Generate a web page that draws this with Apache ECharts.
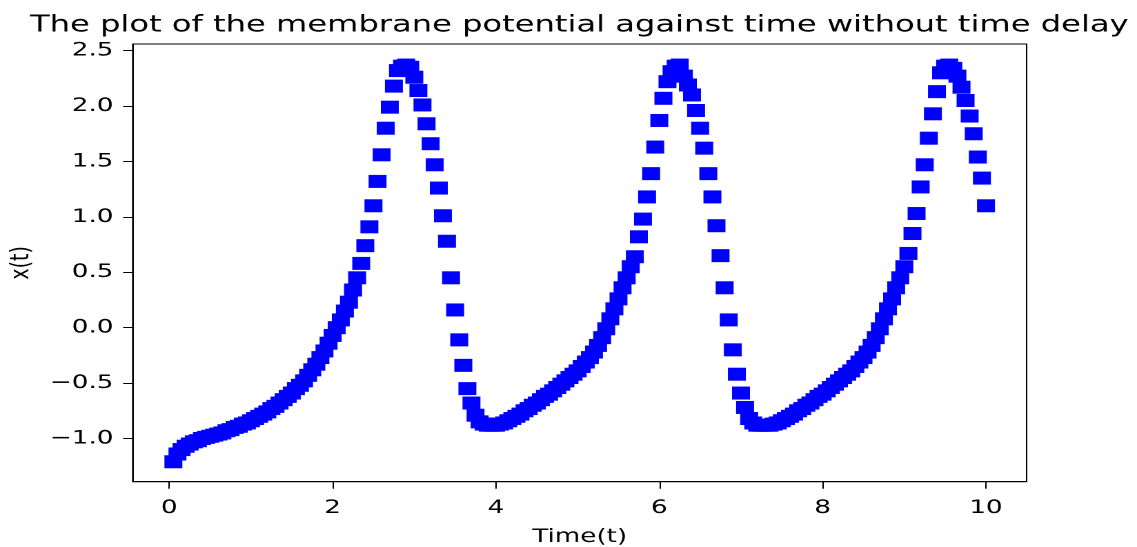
<!DOCTYPE html>
<html>
<head>
<meta charset="utf-8">
<script src="https://cdn.jsdelivr.net/npm/echarts@6/dist/echarts.min.js"></script>
<style>
html,body{margin:0;padding:0;background:#fff;overflow:hidden;width:1137px;height:547px}
#wrap{width:1137px;height:547px;overflow:hidden;position:relative}
#chart{width:824px;height:547px;transform:scaleX(1.37985);transform-origin:0 0}
</style>
</head>
<body>
<div id="wrap"><div id="chart"></div></div>
<script>
// Time samples (t)
const time = [
  0.05,0.10,0.15,0.20,0.25,0.30,0.35,0.40,0.45,0.50,
  0.55,0.60,0.65,0.70,0.75,0.80,0.85,0.90,0.95,1.00,
  1.05,1.10,1.15,1.20,1.25,1.30,1.35,1.40,1.45,1.50,
  1.55,1.60,1.65,1.70,1.75,1.80,1.85,1.90,1.95,2.00,
  2.05,2.10,2.15,2.20,2.25,2.30,2.35,2.40,2.45,2.50,
  2.55,2.60,2.65,2.70,2.75,2.80,2.85,2.90,2.95,3.00,
  3.05,3.10,3.15,3.20,3.25,3.30,3.35,3.40,3.45,3.50,
  3.55,3.60,3.65,3.70,3.75,3.80,3.85,3.90,3.95,4.00,
  4.05,4.10,4.15,4.20,4.25,4.30,4.35,4.40,4.45,4.50,
  4.55,4.60,4.65,4.70,4.75,4.80,4.85,4.90,4.95,5.00,
  5.05,5.10,5.15,5.20,5.25,5.30,5.35,5.40,5.45,5.50,
  5.55,5.60,5.65,5.70,5.75,5.80,5.85,5.90,5.95,6.00,
  6.05,6.10,6.15,6.20,6.25,6.30,6.35,6.40,6.45,6.50,
  6.55,6.60,6.65,6.70,6.75,6.80,6.85,6.90,6.95,7.00,
  7.05,7.10,7.15,7.20,7.25,7.30,7.35,7.40,7.45,7.50,
  7.55,7.60,7.65,7.70,7.75,7.80,7.85,7.90,7.95,8.00,
  8.05,8.10,8.15,8.20,8.25,8.30,8.35,8.40,8.45,8.50,
  8.55,8.60,8.65,8.70,8.75,8.80,8.85,8.90,8.95,9.00,
  9.05,9.10,9.15,9.20,9.25,9.30,9.35,9.40,9.45,9.50,
  9.55,9.60,9.65,9.70,9.75,9.80,9.85,9.90,9.95,10.00
];

// Membrane potential x(t)
const potential = [
  -1.21,-1.14,-1.10,-1.07,-1.05,-1.03,-1.02,-1.00,-0.99,-0.98,
  -0.97,-0.96,-0.95,-0.93,-0.92,-0.90,-0.89,-0.87,-0.86,-0.84,
  -0.82,-0.80,-0.78,-0.76,-0.73,-0.71,-0.68,-0.65,-0.62,-0.59,
  -0.55,-0.52,-0.48,-0.43,-0.38,-0.33,-0.27,-0.21,-0.14,-0.07,
   0.00, 0.07, 0.15, 0.23, 0.34, 0.45, 0.58, 0.74, 0.91, 1.10,
   1.32, 1.56, 1.80, 1.99, 2.18, 2.32, 2.36, 2.37, 2.35, 2.26,
   2.14, 2.01, 1.84, 1.66, 1.47, 1.26, 1.01, 0.78, 0.45, 0.16,
  -0.11,-0.34,-0.55,-0.68,-0.79,-0.85,-0.87,-0.88,-0.88,-0.88,
  -0.87,-0.86,-0.84,-0.82,-0.80,-0.78,-0.75,-0.73,-0.70,-0.68,
  -0.65,-0.62,-0.60,-0.57,-0.54,-0.51,-0.48,-0.45,-0.42,-0.39,
  -0.35,-0.31,-0.27,-0.22,-0.16,-0.09,-0.01, 0.08, 0.17, 0.26,
   0.36, 0.45, 0.55, 0.64, 0.82, 0.98, 1.18, 1.39, 1.63, 1.87,
   2.07, 2.22, 2.31, 2.36, 2.37, 2.27, 2.19, 2.10, 1.96, 1.80,
   1.62, 1.39, 1.18, 0.92, 0.65, 0.36, 0.07,-0.20,-0.42,-0.59,
  -0.72,-0.82,-0.86,-0.88,-0.88,-0.88,-0.88,-0.87,-0.86,-0.84,
  -0.82,-0.80,-0.78,-0.75,-0.73,-0.70,-0.68,-0.65,-0.62,-0.60,
  -0.57,-0.54,-0.51,-0.48,-0.45,-0.42,-0.39,-0.35,-0.31,-0.27,
  -0.22,-0.16,-0.09,-0.01, 0.08, 0.17, 0.26, 0.36, 0.45, 0.55,
   0.67, 0.85, 1.03, 1.27, 1.47, 1.71, 1.93, 2.13, 2.30, 2.36,
   2.37, 2.34, 2.27, 2.17, 2.05, 1.91, 1.75, 1.54, 1.35, 1.10
];

const xTickValues = [0, 2, 4, 6, 8, 10];
const xTickLabels = ['0', '2', '4', '6', '8', '10'];
const yTickValues = [-1.0, -0.5, 0.0, 0.5, 1.0, 1.5, 2.0, 2.5];
const yTickLabels = ['\u22121.0', '\u22120.5', '0.0', '0.5', '1.0', '1.5', '2.0', '2.5'];

const titleText = 'The plot of the membrane potential against time without time delay';
const xName = 'Time(t)';
const yName = 'x(t)';

function lookup(values, labels) {
  return function (v) {
    const i = values.findIndex(function (t) { return Math.abs(t - v) < 1e-9; });
    return i >= 0 ? labels[i] : '';
  };
}

const points = time.map(function (t, i) { return [t, potential[i]]; });

const FONT = 'DejaVu Sans';
const chart = echarts.init(document.getElementById('chart'), null, { renderer: 'canvas', devicePixelRatio: 2 });
chart.setOption({
  animation: false,
  backgroundColor: '#ffffff',
  title: {
    text: titleText,
    left: 419.8,
    top: 14,
    padding: 0,
    textAlign: 'center',
    textStyle: { fontFamily: FONT, fontSize: 23.3, fontWeight: 'normal', color: '#000' }
  },
  grid: {
    left: 96.2, top: 44, width: 647.8, height: 437.7,
    show: true, borderColor: '#000', borderWidth: 1, backgroundColor: 'transparent',
    outerBoundsMode: 'none', containLabel: false
  },
  xAxis: {
    type: 'value',
    min: -0.4475, max: 10.4975,
    name: xName, nameLocation: 'middle', nameGap: 46,
    nameTextStyle: { fontFamily: FONT, fontSize: 19, color: '#000' },
    axisLine: { show: true, onZero: false, lineStyle: { color: '#000', width: 1 } },
    axisTick: { show: true, length: 7, customValues: xTickValues, lineStyle: { color: '#000', width: 1 } },
    axisLabel: { customValues: xTickValues, margin: 17, fontFamily: FONT, fontSize: 19, color: '#000',
      formatter: lookup(xTickValues, xTickLabels) },
    splitLine: { show: false }
  },
  yAxis: {
    type: 'value',
    min: -1.39, max: 2.56,
    name: yName, nameLocation: 'middle', nameGap: 58, nameRotate: 90,
    nameTextStyle: { fontFamily: FONT, fontSize: 19, color: '#000' },
    axisLine: { show: true, onZero: false, lineStyle: { color: '#000', width: 1 } },
    axisTick: { show: true, length: 7, customValues: yTickValues, lineStyle: { color: '#000', width: 1 } },
    axisLabel: { customValues: yTickValues, margin: 14, fontFamily: FONT, fontSize: 19, color: '#000',
      formatter: lookup(yTickValues, yTickLabels) },
    splitLine: { show: false }
  },
  series: [{
    type: 'scatter',
    data: points,
    symbol: 'rect',
    symbolSize: 13,
    itemStyle: { color: '#0000ff', opacity: 1 },
    emphasis: { disabled: true }
  }]
});
</script>
</body>
</html>
